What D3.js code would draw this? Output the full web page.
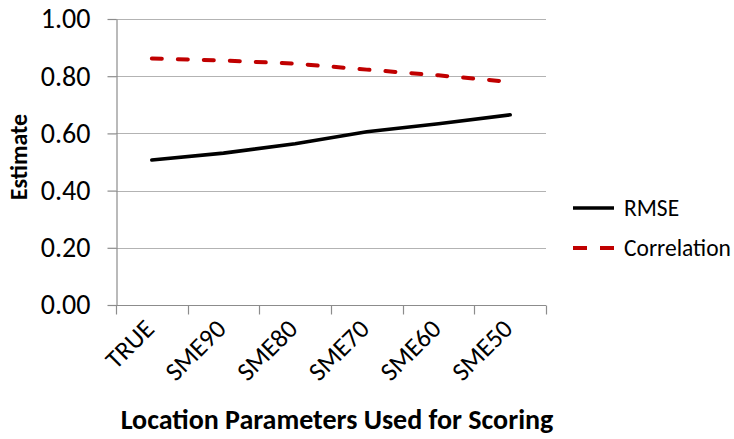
<!DOCTYPE html>
<html>
<head>
<meta charset="utf-8">
<script src="https://cdn.jsdelivr.net/npm/d3@7"></script>
<style>
  html, body { margin: 0; padding: 0; background: #fff; }
  svg text { font-family: Carlito, Lato, "Open Sans", sans-serif; fill: #000; }
</style>
</head>
<body>
<svg id="chart" width="734" height="439"></svg>
<script>
// Scoring conditions along the x axis
const categories = ["TRUE", "SME90", "SME80", "SME70", "SME60", "SME50"];
// Estimates per condition
const rmse = [0.507, 0.531, 0.564, 0.606, 0.634, 0.665];
const correlation = [0.862, 0.855, 0.844, 0.823, 0.803, 0.780];
const yTicks = [0, 0.2, 0.4, 0.6, 0.8, 1.0];
const seriesNames = ["RMSE", "Correlation"];

const svg = d3.select("#chart");
const margin = { left: 116, right: 188, top: 19, bottom: 134 };
const W = 734, H = 439;
const axisGrey = "#8c8c8c";

const x = d3.scaleBand().domain(categories).range([margin.left, W - margin.right]);
const y = d3.scaleLinear().domain([0, 1]).range([H - margin.bottom, margin.top]);

// Horizontal gridlines
svg.append("g")
  .selectAll("line")
  .data(yTicks.slice(1))
  .join("line")
  .attr("x1", margin.left).attr("x2", W - margin.right)
  .attr("y1", d => Math.round(y(d)) + 0.5).attr("y2", d => Math.round(y(d)) + 0.5)
  .attr("stroke", "#b3b3b3").attr("stroke-width", 1.2);

// Y axis
const yAxis = svg.append("g")
  .attr("transform", `translate(${margin.left + 0.5},0)`)
  .call(d3.axisLeft(y).tickValues(yTicks).tickFormat(d3.format(".2f")).tickSize(9).tickSizeOuter(0).tickPadding(17));
yAxis.select(".domain").attr("stroke", axisGrey).attr("stroke-width", 1.2);
yAxis.selectAll(".tick line").attr("stroke", axisGrey).attr("stroke-width", 1.2);
yAxis.selectAll(".tick text").attr("font-size", 28).attr("fill", "#000");

// X axis with ticks on band boundaries
const xAxisY = Math.round(y(0)) + 0.5;
const xg = svg.append("g");
xg.append("line")
  .attr("x1", margin.left).attr("x2", W - margin.right)
  .attr("y1", xAxisY).attr("y2", xAxisY)
  .attr("stroke", axisGrey).attr("stroke-width", 1.2);
const bounds = categories.map(c => x(c)).concat([x(categories[categories.length - 1]) + x.bandwidth()]);
xg.selectAll("line.tk")
  .data(bounds)
  .join("line")
  .attr("class", "tk")
  .attr("x1", d => Math.round(d) + 0.5).attr("x2", d => Math.round(d) + 0.5)
  .attr("y1", xAxisY).attr("y2", xAxisY + 9)
  .attr("stroke", axisGrey).attr("stroke-width", 1.2);
xg.selectAll("text")
  .data(categories)
  .join("text")
  .attr("transform", d => `translate(${x(d) + x.bandwidth() / 2 + 4},${xAxisY + 25}) rotate(-45)`)
  .attr("text-anchor", "end")
  .attr("font-size", 26)
  .text(d => d);

// Series lines
const line = d3.line()
  .x((d, i) => x(categories[i]) + x.bandwidth() / 2)
  .y(d => y(d));

svg.append("path")
  .datum(correlation)
  .attr("d", line)
  .attr("fill", "none")
  .attr("stroke", "#c00000")
  .attr("stroke-width", 4)
  .attr("stroke-linecap", "round")
  .attr("stroke-dasharray", "10,16");

svg.append("path")
  .datum(rmse)
  .attr("d", line)
  .attr("fill", "none")
  .attr("stroke", "#000")
  .attr("stroke-width", 3.6)
  .attr("stroke-linecap", "round");

// Axis titles
svg.append("text")
  .attr("x", 337)
  .attr("y", 429)
  .attr("text-anchor", "middle")
  .attr("font-size", 28)
  .attr("font-weight", "bold")
  .text("Location Parameters Used for Scoring");

svg.append("text")
  .attr("transform", "translate(27,157) rotate(-90)")
  .attr("text-anchor", "middle")
  .attr("font-size", 24)
  .attr("font-weight", "bold")
  .text("Estimate");

// Legend
const legend = svg.append("g").attr("transform", "translate(573,208)");
const lg = legend.selectAll("g")
  .data(seriesNames)
  .join("g")
  .attr("transform", (d, i) => `translate(0,${i * 40})`);
lg.append("line")
  .attr("x1", 0).attr("x2", 41).attr("y1", 0).attr("y2", 0)
  .attr("stroke", (d, i) => i === 0 ? "#000" : "#c00000")
  .attr("stroke-width", (d, i) => i === 0 ? 3.6 : 4)
  .attr("stroke-dasharray", (d, i) => i === 0 ? null : "14,13")
  .attr("stroke-linecap", "butt");
lg.append("text")
  .attr("x", 51).attr("y", 0).attr("dy", "0.33em")
  .attr("font-size", 23.5)
  .text(d => d);
</script>
</body>
</html>
